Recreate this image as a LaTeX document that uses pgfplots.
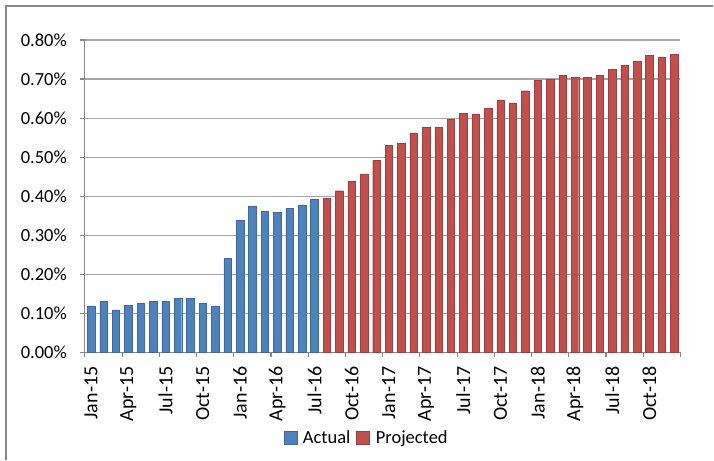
\documentclass[border=0pt]{standalone}
\usepackage{pgfplots}
\pgfplotsset{compat=1.18}
\usetikzlibrary{calc}
\usepackage{fontspec}
\setmainfont{Carlito}
\definecolor{actblue}{HTML}{4F81BD}
\definecolor{projred}{HTML}{C0504D}
\definecolor{gridgray}{HTML}{A6A6A6}
\definecolor{axgray}{HTML}{868686}
\begin{document}
\begin{tikzpicture}[x=1pt,y=1pt]
\begin{axis}[
  name=ax,
  scale only axis, width=596pt, height=312.7pt,
  xmin=-0.5, xmax=47.5, ymin=0, ymax=0.8,
  enlargelimits=false,
  axis x line*=bottom, axis y line*=left,
  axis line style={axgray,line width=1.1pt},
  ymajorgrids, grid style={gridgray,line width=1.1pt},
  ytick={0,0.1,0.2,0.3,0.4,0.5,0.6,0.7,0.8},
  yticklabel={\pgfmathprintnumber[fixed,fixed zerofill,precision=2]{\tick}\%},
  /pgf/number format/assume math mode=true,
  yticklabel style={font=\fontsize{18.5}{20}\selectfont, inner sep=0pt, xshift=-13pt},
  xtick={0,3,...,45},
  xticklabels={Jan-15,Apr-15,Jul-15,Oct-15,Jan-16,Apr-16,Jul-16,Oct-16,Jan-17,Apr-17,Jul-17,Oct-17,Jan-18,Apr-18,Jul-18,Oct-18},
  xticklabel style={yshift=-9pt, rotate=90, anchor=east, font=\fontsize{20}{22}\selectfont, inner sep=0pt},
  minor xtick={-0.5,2.5,...,47.5},
  tick align=outside,
  xtick pos=bottom, ytick pos=left,
  major tick length=5pt, minor tick length=5pt,
  x tick style={draw=none},
  minor x tick style={axgray,line width=1.1pt,draw=axgray},
  y tick style={axgray,line width=1.1pt},
  ybar, bar width=7.5pt, bar shift=0pt,
  legend style={at={(0.473,-0.272)}, anchor=center, legend columns=2, draw=none, fill=none,
    font=\fontsize{18.5}{20}\selectfont, column sep=4pt},
  legend image code/.code={\fill[#1] (0pt,-6.5pt) rectangle (13pt,6.5pt);},
]
\addplot[fill=actblue, draw=actblue!80!black] coordinates {
(0,0.119) (1,0.130) (2,0.109) (3,0.121) (4,0.125) (5,0.130) (6,0.130) (7,0.139) (8,0.139) (9,0.125)
(10,0.119) (11,0.240) (12,0.339) (13,0.375) (14,0.362) (15,0.358) (16,0.368) (17,0.378) (18,0.392)};
\addlegendentry{Actual}
\addplot[fill=projred, draw=projred!80!black] coordinates {
(19,0.394) (20,0.414) (21,0.438) (22,0.457) (23,0.491) (24,0.530) (25,0.535) (26,0.562) (27,0.576) (28,0.576)
(29,0.596) (30,0.612) (31,0.611) (32,0.626) (33,0.646) (34,0.639) (35,0.670) (36,0.696) (37,0.700) (38,0.710)
(39,0.705) (40,0.704) (41,0.710) (42,0.724) (43,0.736) (44,0.746) (45,0.760) (46,0.757) (47,0.763)};
\addlegendentry{Projected}
\end{axis}
\pgfresetboundingbox
\coordinate (O) at ($(ax.south west)+(-85,-107.3)$);
\path (O) rectangle ++(714,460);
\draw[axgray,line width=1.2pt] ($(O)+(6,0)$) -- ++(0,454) -- ++(708,0);
\end{tikzpicture}
\end{document}
